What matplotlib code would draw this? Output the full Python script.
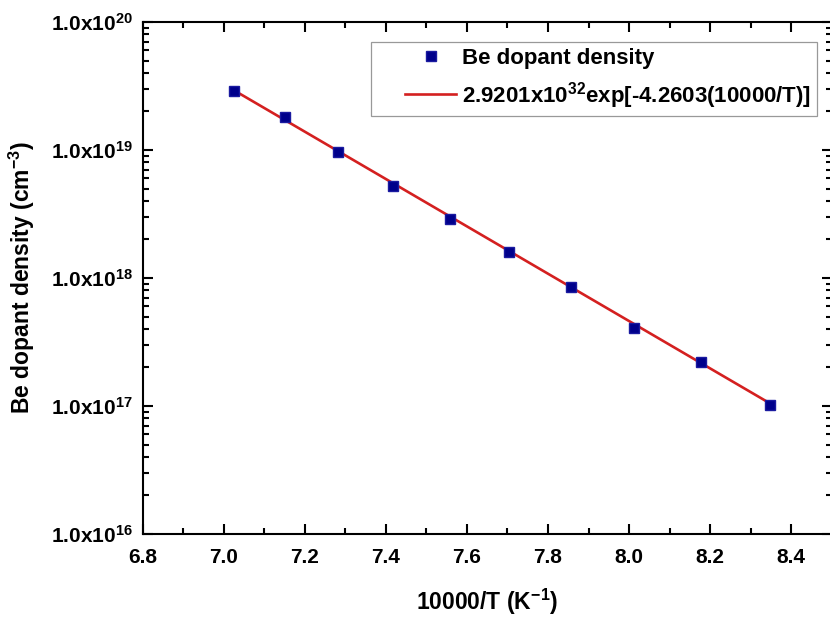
import numpy as np
import matplotlib
matplotlib.use("Agg")
import matplotlib.pyplot as plt
from matplotlib.legend_handler import HandlerLine2D
from matplotlib.ticker import FixedLocator, LogLocator, NullFormatter, MultipleLocator, FuncFormatter

plt.rcParams['font.family'] = ['Liberation Sans', 'DejaVu Sans']
plt.rcParams['font.weight'] = 'bold'
plt.rcParams['mathtext.fontset'] = 'custom'
plt.rcParams['mathtext.rm'] = 'Liberation Sans:bold'
plt.rcParams['mathtext.bf'] = 'Liberation Sans:bold'
plt.rcParams['mathtext.it'] = 'Liberation Sans:bold'
plt.rcParams['mathtext.default'] = 'bf'

# measured Be doping vs inverse growth temperature
inv_T = [7.025, 7.152, 7.282, 7.417, 7.558, 7.703, 7.856, 8.012, 8.177, 8.348]
density = [2.90e19, 1.80e19, 9.64e18, 5.23e18, 2.89e18, 1.59e18, 8.47e17, 4.09e17, 2.20e17, 1.02e17]

# Arrhenius fit: N = A exp(-b * 10000/T)
fit_A = 2.9201e32
fit_b = 4.2603
fit_x = np.array([inv_T[0], inv_T[-1]])
fit_y = fit_A * np.exp(-fit_b * fit_x)

fig = plt.figure(figsize=(8.3, 6.17), dpi=100)
ax = fig.add_axes([0.1717, 0.1345, 0.8305, 0.8298])

fit_line, = ax.plot(fit_x, fit_y, color='#d42020', lw=1.9, zorder=2)
pts, = ax.plot(inv_T, density, ls='none', marker='s', ms=7.2, color='#00008b',
               mec='#1a1aa0', zorder=3)

ax.set_yscale('log')
ax.set_xlim(6.8, 8.5)
ax.set_ylim(1e16, 1e20)

ax.xaxis.set_major_locator(FixedLocator([6.8, 7.0, 7.2, 7.4, 7.6, 7.8, 8.0, 8.2, 8.4]))
ax.xaxis.set_minor_locator(MultipleLocator(0.1))
ax.xaxis.set_major_formatter(FuncFormatter(lambda v, p: f'{v:.1f}'))
ax.yaxis.set_major_locator(LogLocator(base=10, numticks=10))
ax.yaxis.set_minor_locator(LogLocator(base=10, subs=np.arange(2, 10), numticks=20))
ax.yaxis.set_minor_formatter(NullFormatter())
ax.yaxis.set_major_formatter(FuncFormatter(
    lambda v, p: r'$1.0x10^{%d}$' % int(round(np.log10(v)))))

ax.tick_params(which='both', direction='in', top=True, right=True, width=1.5,
               labelsize=15)
ax.tick_params(which='major', length=7.2)
ax.tick_params(which='minor', length=4.3)
ax.tick_params(axis='x', which='major', pad=10)
ax.tick_params(axis='y', which='major', pad=7)
for s in ax.spines.values():
    s.set_linewidth(1.5)

ax.set_xlabel(r'10000/T (K$^{-1}$)', fontsize=16.5, fontweight='bold', labelpad=14)
ax.set_ylabel(r'Be dopant density (cm$^{-3}$)', fontsize=16.5, fontweight='bold', labelpad=10)

leg = ax.legend([pts, fit_line],
                ['Be dopant density', r'2.9201x10$^{32}$exp[-4.2603(10000/T)]'],
                loc='upper right', bbox_to_anchor=(0.978, 0.961), borderaxespad=0,
                fontsize=16, frameon=True, fancybox=False, edgecolor='#808080',
                handlelength=3.6, handletextpad=0.25, borderpad=0.25,
                labelspacing=0.5, numpoints=1,
                handler_map={pts: HandlerLine2D(xpad=1.3),
                             fit_line: HandlerLine2D(xpad=1.3)})
leg.get_frame().set_linewidth(0.9)

fig.savefig('out.png', dpi=100)
